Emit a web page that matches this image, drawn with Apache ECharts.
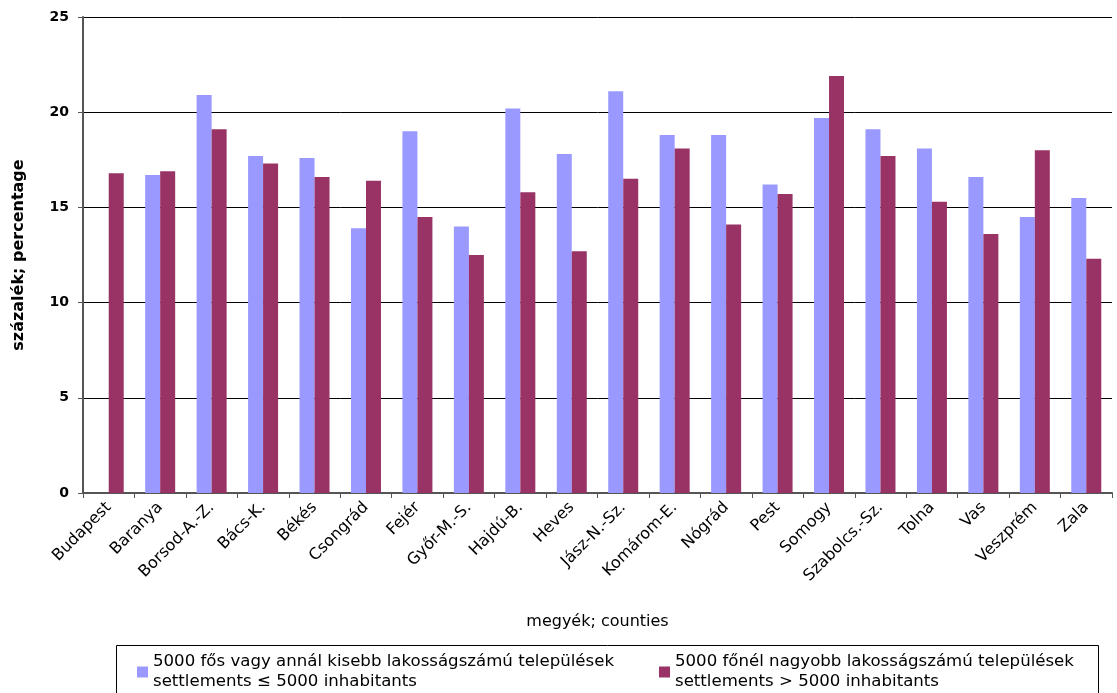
<!DOCTYPE html>
<html>
<head>
<meta charset="utf-8">
<script src="https://cdn.jsdelivr.net/npm/echarts@6/dist/echarts.min.js"></script>
<style>
  html, body { margin: 0; padding: 0; background: #fff; }
  #main { width: 1117px; height: 693px; }
</style>
</head>
<body>
<div id="main"></div>
<script>
// megyék
var counties = ['Budapest', 'Baranya', 'Borsod-A.-Z.', 'Bács-K.', 'Békés', 'Csongrád', 'Fejér',
  'Győr-M.-S.', 'Hajdú-B.', 'Heves', 'Jász-N.-Sz.', 'Komárom-E.', 'Nógrád', 'Pest',
  'Somogy', 'Szabolcs.-Sz.', 'Tolna', 'Vas', 'Veszprém', 'Zala']
// 5000 fős vagy kisebb települések
var smallSettl = [null, 16.7, 20.9, 17.7, 17.6, 13.9, 19.0,
  14.0, 20.2, 17.8, 21.1, 18.8, 18.8, 16.2,
  19.7, 19.1, 18.1, 16.6, 14.5, 15.5]
// 5000 főnél nagyobb települések
var bigSettl = [16.8, 16.9, 19.1, 17.3, 16.6, 16.4, 14.5,
  12.5, 15.8, 12.7, 16.5, 18.1, 14.1, 15.7,
  21.9, 17.7, 15.3, 13.6, 18.0, 12.3]
var yTicks = [0, 5, 10, 15, 20, 25]

var nameSmall = '5000 fős vagy annál kisebb lakosságszámú települések\nsettlements ≤ 5000 inhabitants'
var nameBig = '5000 főnél nagyobb lakosságszámú települések\nsettlements > 5000 inhabitants'

var font = '"DejaVu Sans", Arial, sans-serif'
var chart = echarts.init(document.getElementById('main'))

var legendText = {
  fontFamily: font,
  fontSize: 16.6,
  color: '#000',
  lineHeight: 20,
  padding: [20, 0, 0, 0]
}

chart.setOption({
  animation: false,
  textStyle: { fontFamily: font },
  grid: { left: 83, right: 5, top: 17, bottom: 200, containLabel: false },
  legend: [
    {
      data: [nameSmall],
      left: 137,
      top: 642,
      padding: 0,
      icon: 'rect',
      itemWidth: 11,
      itemHeight: 11,
      itemGap: 5,
      textStyle: legendText
    },
    {
      data: [nameBig],
      left: 659,
      top: 642,
      padding: 0,
      icon: 'rect',
      itemWidth: 11,
      itemHeight: 11,
      textStyle: legendText
    }
  ],
  graphic: [{
    type: 'rect',
    left: 114,
    top: 643,
    shape: { width: 982, height: 60 },
    style: { fill: 'none', stroke: '#000', lineWidth: 1 }
  }],
  xAxis: {
    type: 'category',
    data: counties,
    name: 'megyék; counties',
    nameLocation: 'middle',
    nameGap: 121,
    nameTextStyle: { fontFamily: font, fontSize: 16, color: '#000' },
    axisLine: { lineStyle: { color: '#555', width: 2 } },
    axisTick: { show: true, length: 5, lineStyle: { color: '#555' } },
    axisLabel: { rotate: 45, fontFamily: font, fontSize: 16, color: '#000', margin: 12, interval: 0 }
  },
  yAxis: {
    type: 'value',
    min: yTicks[0],
    max: yTicks[yTicks.length - 1],
    interval: 5,
    name: 'százalék; percentage',
    nameLocation: 'middle',
    nameGap: 56,
    nameTextStyle: { fontFamily: font, fontSize: 16, fontWeight: 'bold', color: '#000' },
    axisLine: { show: true, lineStyle: { color: '#555', width: 2 } },
    axisTick: { show: true, length: 5, lineStyle: { color: '#555' } },
    axisLabel: { fontFamily: font, fontSize: 14, fontWeight: 'bold', color: '#000', margin: 14 },
    splitLine: { lineStyle: { color: '#000', width: 1 } }
  },
  series: [
    {
      name: nameSmall,
      type: 'bar',
      data: smallSettl,
      barWidth: 15,
      barGap: '0%',
      itemStyle: { color: '#9999FF' }
    },
    {
      name: nameBig,
      type: 'bar',
      data: bigSettl,
      barWidth: 15,
      barGap: '0%',
      itemStyle: { color: '#993366' }
    }
  ]
})
</script>
</body>
</html>
